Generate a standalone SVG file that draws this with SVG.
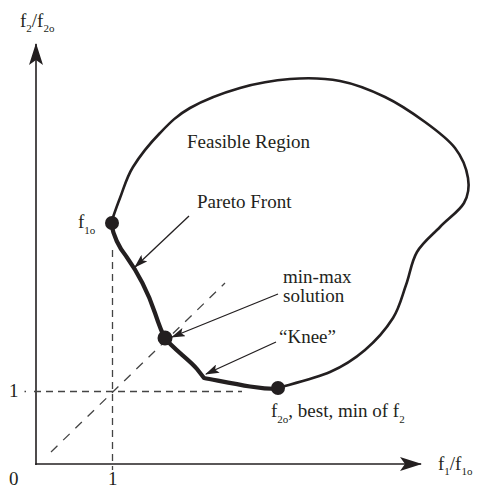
<svg xmlns="http://www.w3.org/2000/svg" width="478" height="489" viewBox="0 0 478 489">
<style>
text{font-family:"Liberation Serif","Times New Roman",serif;fill:#231f20;font-size:19px}
.sub{font-size:11px}
.axis{stroke:#231f20;stroke-width:1.6;fill:none}
.dash{stroke:#444;stroke-width:1.3;fill:none;stroke-dasharray:7 5}
.diag{stroke:#444;stroke-width:1.3;fill:none;stroke-dasharray:9 8}
.ann{stroke:#231f20;stroke-width:1.3;fill:none}
.region{stroke:#231f20;stroke-width:2.6;fill:none;stroke-linecap:round;stroke-linejoin:round}
.front{stroke:#231f20;stroke-width:4.2;fill:none;stroke-linecap:round;stroke-linejoin:round}
.dot{fill:#231f20}
</style>
<defs>
<marker id="bigArrow" markerUnits="userSpaceOnUse" viewBox="0 0 22 14" refX="21" refY="7" markerWidth="22" markerHeight="14" orient="auto">
<path d="M0,0 L22,7 L0,14 L5,7 Z" fill="#231f20"/>
</marker>
<marker id="smallArrow" markerUnits="userSpaceOnUse" viewBox="0 0 14 9" refX="13" refY="4.5" markerWidth="14" markerHeight="9" orient="auto">
<path d="M0,0 L14,4.5 L0,9 L3,4.5 Z" fill="#231f20"/>
</marker>
</defs>

<g id="axes">
<line class="axis" x1="36" y1="465" x2="36" y2="44" marker-end="url(#bigArrow)"/>
<line class="axis" x1="35.2" y1="464" x2="421" y2="464" marker-end="url(#bigArrow)"/>
<text x="20" y="27">f<tspan class="sub" dy="5">2</tspan><tspan dy="-5">/f</tspan><tspan class="sub" dy="5">2o</tspan></text>
<text x="438" y="470">f<tspan class="sub" dy="5">1</tspan><tspan dy="-5">/f</tspan><tspan class="sub" dy="5">1o</tspan></text>
<text x="9" y="485" font-size="18">0</text>
<text x="108" y="485" font-size="18">1</text>
<text x="9" y="397" font-size="18">1</text>
</g>

<g id="guides">
<line class="dash" x1="24.5" y1="391.5" x2="26" y2="391.5" style="stroke-dasharray:none"/>
<line class="dash" x1="34" y1="391.5" x2="242" y2="391.5"/>
<line class="dash" x1="112.5" y1="250" x2="112.5" y2="470"/>
<line class="diag" x1="51" y1="452" x2="225" y2="283"/>
</g>

<g id="feasible-region">
<path class="region" d="M111,223 C112.5,218.8 116.3,207.3 120,198 C123.7,188.7 126.3,177.8 133,167 C139.7,156.2 150.5,142.8 160,133 C169.5,123.2 176.7,115.5 190,108 C203.3,100.5 223.3,92.8 240,88 C256.7,83.2 273.3,80.2 290,79 C306.7,77.8 324.2,78 340,81 C355.8,84 370.8,90.2 385,97 C399.2,103.8 413.3,113.5 425,122 C436.7,130.5 447.8,138.7 455,148 C462.2,157.3 466.5,168.8 468,178 C469.5,187.2 468.7,194.8 464,203 C459.3,211.2 447.8,218.8 440,227 C432.2,235.2 422.7,242.3 417,252 C411.3,261.7 410,274 406,285 C402,296 399.8,307.2 393,318 C386.2,328.8 375.5,341 365,350 C354.5,359 344.5,365.7 330,372 C315.5,378.3 286.7,385.3 278,388"/>
<text x="187" y="148">Feasible Region</text>
</g>

<g id="pareto-front">
<path class="front" d="M111,223 C113,233 117,245 126,256 C136,270 148,292 155,313 C159,325 162,333 165,338 C172,348 190,360 197,369 L204,378 C215,380 235,384 250,386.5 C262,388.5 270,389 278,389"/>
<text x="197" y="208">Pareto Front</text>
</g>

<g id="f1o">
<circle class="dot" cx="112" cy="223" r="7"/>
<text x="78" y="228">f<tspan class="sub" dy="6">1o</tspan></text>
</g>

<g id="min-max">
<circle class="dot" cx="165" cy="338" r="7.5"/>
<text x="283" y="283">min-max</text>
<text x="283" y="302">solution</text>
</g>

<g id="knee">
<text x="279" y="343">“Knee”</text>
</g>

<g id="f2o">
<circle class="dot" cx="278" cy="388" r="7"/>
<text x="271" y="417">f<tspan class="sub" dy="6">2o</tspan><tspan dy="-6">, best, min of f</tspan><tspan class="sub" dy="6">2</tspan></text>
</g>

<g id="connectors">
<line class="ann" x1="189" y1="216" x2="135" y2="267" marker-end="url(#smallArrow)"/>
<line class="ann" x1="278" y1="294" x2="172" y2="337" marker-end="url(#smallArrow)"/>
<line class="ann" x1="276" y1="342" x2="206" y2="374" marker-end="url(#smallArrow)"/>
</g>
</svg>
